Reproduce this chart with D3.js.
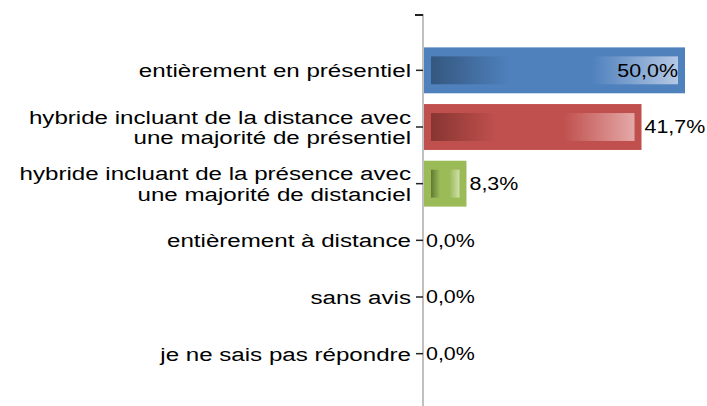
<!DOCTYPE html>
<html>
<head>
<meta charset="utf-8">
<script src="https://cdn.jsdelivr.net/npm/d3@7"></script>
<style>
  body { margin: 0; background: #fff; }
  text { font-family: "Liberation Sans", Arial, sans-serif; fill: #000; }
</style>
</head>
<body>
<div id="chart"></div>
<script>
const categories = [
  ["entièrement en présentiel"],
  ["hybride incluant de la distance avec", "une majorité de présentiel"],
  ["hybride incluant de la présence avec", "une majorité de distanciel"],
  ["entièrement à distance"],
  ["sans avis"],
  ["je ne sais pas répondre"]
];
const values = [50.0, 41.7, 8.3, 0.0, 0.0, 0.0];
const barColors = [
  {base: "#4f81bd", dark: "#34577f", light: "#b4c8e4"},
  {base: "#c0504d", dark: "#873532", light: "#e4a9a8"},
  {base: "#9bbb59", dark: "#5f7a30", light: "#cfe0aa"}
];

const width = 707, height = 406;
const axisX = 423;

const svg = d3.select("#chart").append("svg")
    .attr("width", width)
    .attr("height", height);

const keys = categories.map((c, i) => i);

const y = d3.scaleBand()
    .domain(keys)
    .range([42, 382])
    .paddingInner(0.19)
    .paddingOuter(0.095);

const x = d3.scaleLinear()
    .domain([0, 50])
    .range([axisX, 685]);

// degrade dans les barres
const defs = svg.append("defs");
barColors.forEach((c, i) => {
  const g = defs.append("linearGradient").attr("id", "grad" + i)
      .attr("x1", "0%").attr("x2", "100%").attr("y1", "0%").attr("y2", "0%");
  g.append("stop").attr("offset", "0%").attr("stop-color", c.dark);
  g.append("stop").attr("offset", "32%").attr("stop-color", c.base);
  g.append("stop").attr("offset", "65%").attr("stop-color", c.base);
  g.append("stop").attr("offset", "100%").attr("stop-color", c.light);
});

const bars = svg.selectAll(".bar")
    .data(values.map((v, i) => ({v, i})).filter(d => d.v > 0))
    .enter().append("g");

bars.append("rect")
    .attr("x", x(0))
    .attr("y", d => y(d.i))
    .attr("width", d => x(d.v) - x(0))
    .attr("height", y.bandwidth())
    .attr("fill", d => barColors[d.i].base);

bars.append("rect")
    .attr("x", x(0) + 8)
    .attr("y", d => y(d.i) + 9)
    .attr("width", d => Math.max(0, x(d.v) - x(0) - 15))
    .attr("height", y.bandwidth() - 18)
    .attr("fill", d => `url(#grad${d.i})`);

// axe
svg.append("line")
    .attr("x1", axisX).attr("x2", axisX)
    .attr("y1", 14).attr("y2", height)
    .attr("stroke", "#c0c0c0").attr("stroke-width", 2);

svg.append("line")
    .attr("x1", axisX - 8).attr("x2", axisX)
    .attr("y1", 15).attr("y2", 15)
    .attr("stroke", "#222").attr("stroke-width", 2);

svg.selectAll(".tick")
    .data(keys)
    .enter().append("line")
    .attr("x1", axisX - 7).attr("x2", axisX)
    .attr("y1", d => y(d) + y.bandwidth() / 2)
    .attr("y2", d => y(d) + y.bandwidth() / 2)
    .attr("stroke", "#222").attr("stroke-width", 1.5);

// libelles des categories
const labels = svg.selectAll(".cat")
    .data(keys)
    .enter().append("text")
    .attr("text-anchor", "end")
    .attr("transform", d => `translate(${axisX - 12},${y(d) + y.bandwidth() / 2}) scale(1.27,1)`)
    .style("font-size", "19px");

labels.each(function(d) {
  const lines = categories[d];
  const t = d3.select(this);
  lines.forEach((ln, j) => {
    t.append("tspan")
      .attr("x", 0)
      .attr("y", (j - (lines.length - 1) / 2) * 20.5)
      .attr("dy", "0.36em")
      .text(ln);
  });
});

// valeurs
const fmt = v => v.toFixed(1).replace(".", ",") + "%";
svg.selectAll(".val")
    .data(values.map((v, i) => ({v, i})))
    .enter().append("text")
    .attr("text-anchor", d => d.i === 0 ? "end" : "start")
    .attr("transform", d => {
      const px = d.i === 0 ? x(d.v) - 7 : x(d.v) + 3;
      return `translate(${px},${y(d.i) + y.bandwidth() / 2}) scale(1.19,1)`;
    })
    .attr("dy", "0.36em")
    .style("font-size", "18px")
    .text(d => fmt(d.v));
</script>
</body>
</html>
